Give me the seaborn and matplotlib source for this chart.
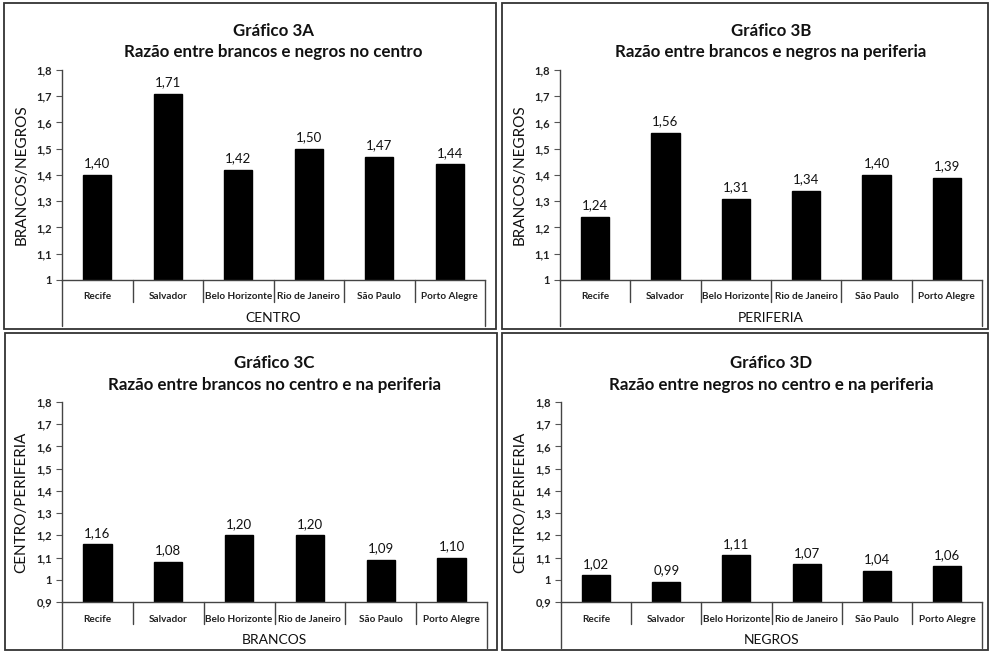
import matplotlib
matplotlib.use("Agg")
import matplotlib.pyplot as plt
import seaborn as sns
import pandas as pd
from matplotlib.patches import Rectangle
from matplotlib.lines import Line2D

sns.set_theme(style="white")
plt.rcParams['font.family'] = ['Lato', 'DejaVu Sans']

# data
cidades = ['Recife', 'Salvador', 'Belo Horizonte', 'Rio de Janeiro', 'São Paulo', 'Porto Alegre']
razao_centro = [1.40, 1.71, 1.42, 1.50, 1.47, 1.44]
razao_periferia = [1.24, 1.56, 1.31, 1.34, 1.40, 1.39]
razao_brancos = [1.16, 1.08, 1.20, 1.20, 1.09, 1.10]
razao_negros = [1.02, 0.99, 1.11, 1.07, 1.04, 1.06]

paineis = [
    ('Gráfico 3A', 'Razão entre brancos e negros no centro', 'BRANCOS/NEGROS', 'CENTRO', razao_centro, 1.0),
    ('Gráfico 3B', 'Razão entre brancos e negros na periferia', 'BRANCOS/NEGROS', 'PERIFERIA', razao_periferia, 1.0),
    ('Gráfico 3C', 'Razão entre brancos no centro e na periferia', 'CENTRO/PERIFERIA', 'BRANCOS', razao_brancos, 0.9),
    ('Gráfico 3D', 'Razão entre negros no centro e na periferia', 'CENTRO/PERIFERIA', 'NEGROS', razao_negros, 0.9),
]

W, H = 990, 653
fig = plt.figure(figsize=(W / 100, H / 100), dpi=100)
fig.patch.set_facecolor('white')

# axes boxes in pixels: left, top(ymax), right, bottom(ymin)
caixas_ax = [(62, 70, 485, 280), (560, 70, 982, 280), (62, 402, 487, 602), (561, 402, 982, 602)]
# panel borders in pixels
bordas = [(4, 3, 496, 329), (502, 3, 988, 329), (5, 333, 497, 650), (502, 333, 988, 650)]

for (x0, y0, x1, y1) in bordas:
    fig.patches.append(Rectangle((x0 / W, 1 - y1 / H), (x1 - x0) / W, (y1 - y0) / H,
                                 transform=fig.transFigure, fill=False,
                                 edgecolor='#333333', linewidth=1.3))

def fmt(v):
    if abs(v - round(v)) < 1e-9:
        return str(int(round(v)))
    return f"{v:.1f}".replace('.', ',')

for (tit1, tit2, ylab, grupo, vals, ymin), (l, t, r, b) in zip(paineis, caixas_ax):
    ax = fig.add_axes([l / W, 1 - b / H, (r - l) / W, (b - t) / H])
    df = pd.DataFrame({'cidade': cidades, 'valor': vals})
    sns.barplot(data=df, x='cidade', y='valor', color='black', width=0.4,
                saturation=1, ax=ax)
    for p in ax.patches:
        p.set_edgecolor('black')
    ax.set_xlim(-0.5, 5.5)
    ax.set_ylim(ymin, 1.8)
    ticks = [round(ymin + 0.1 * i, 1) for i in range(int(round((1.8 - ymin) * 10)) + 1)]
    ax.set_yticks(ticks)
    ax.set_yticklabels([fmt(v) for v in ticks], fontsize=8, fontweight='bold', color='#222222')
    ax.tick_params(axis='y', left=True, length=4, width=0.8, color='#555555', pad=3)
    ax.tick_params(axis='x', bottom=False, length=0, pad=9)
    ax.set_xticks(range(len(cidades)))
    ax.set_xticklabels(cidades, fontsize=7.2, fontweight='bold', color='#222222')
    for s in ['top', 'right']:
        ax.spines[s].set_visible(False)
    for s in ['left', 'bottom']:
        ax.spines[s].set_color('#444444')
        ax.spines[s].set_linewidth(1.0)
    ax.set_xlabel('')
    ax.set_ylabel(ylab, fontsize=11, color='#111111', labelpad=6)
    ax.set_title(tit1 + '\n' + tit2, fontsize=12.2, fontweight='bold', pad=9, linespacing=1.45,
                 color='#111111')

    for cont in ax.containers:
        ax.bar_label(cont, labels=[f"{v:.2f}".replace('.', ',') for v in vals],
                     padding=4, fontsize=9.5, color='#111111')

    hpx = b - t
    tr = ax.get_xaxis_transform()
    for xs in [i + 0.5 for i in range(5)]:
        ax.add_line(Line2D([xs, xs], [0, -22 / hpx], transform=tr, color='#444444',
                           linewidth=1.0, clip_on=False))
    for xs in [-0.5, 5.5]:
        ax.add_line(Line2D([xs, xs], [0, -46 / hpx], transform=tr, color='#444444',
                           linewidth=1.0, clip_on=False))
    ax.text(0.5, -38 / hpx, grupo, transform=ax.transAxes, ha='center', va='center',
            fontsize=10, color='#111111')

fig.savefig('out.png', dpi=100, facecolor='white')
